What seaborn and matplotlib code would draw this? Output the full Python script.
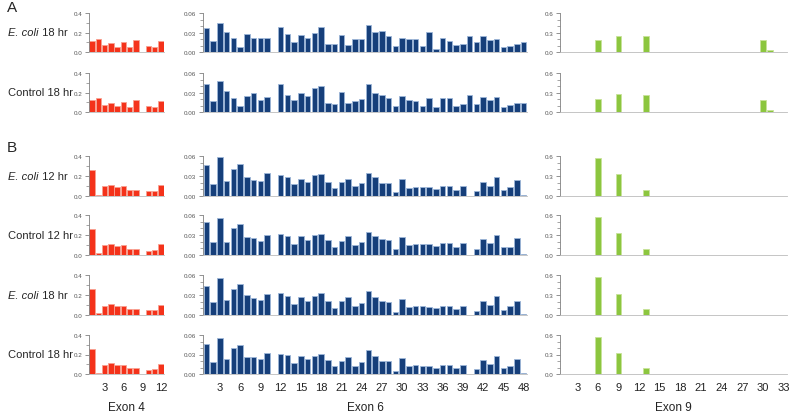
import pandas as pd
import matplotlib
matplotlib.use("Agg")
import matplotlib.pyplot as plt
from matplotlib.ticker import AutoMinorLocator
import seaborn as sns

sns.set_theme(style="white")
plt.rcParams['font.family'] = ['Liberation Sans', 'DejaVu Sans']

# Row labels (panel A: 2 rows, panel B: 4 rows)
row_labels = ["E. coli 18 hr", "Control 18 hr",
              "E. coli 12 hr", "Control 12 hr", "E. coli 18 hr", "Control 18 hr"]
exon_names = ["Exon 4", "Exon 6", "Exon 9"]

# Exon 4: 12 positions
exon4 = [
    [0.113, 0.137, 0.068, 0.089, 0.055, 0.103, 0.048, 0.126, 0.0, 0.065, 0.050, 0.110],
    [0.124, 0.145, 0.070, 0.090, 0.060, 0.104, 0.054, 0.128, 0.0, 0.064, 0.047, 0.114],
    [0.262, 0.015, 0.097, 0.113, 0.093, 0.100, 0.063, 0.063, 0.0, 0.053, 0.053, 0.110],
    [0.265, 0.018, 0.097, 0.110, 0.093, 0.100, 0.060, 0.060, 0.0, 0.043, 0.053, 0.107],
    [0.257, 0.018, 0.090, 0.113, 0.090, 0.093, 0.063, 0.063, 0.0, 0.047, 0.047, 0.097],
    [0.254, 0.012, 0.092, 0.112, 0.088, 0.092, 0.061, 0.061, 0.0, 0.044, 0.047, 0.098],
]

# Exon 6: 48 positions
exon6 = [
    [0.0374, 0.0174, 0.045, 0.031, 0.022, 0.0077, 0.028, 0.022, 0.022, 0.022,
     0.0, 0.039, 0.0277, 0.0154, 0.026, 0.0215, 0.0297, 0.038, 0.0128, 0.0118,
     0.0267, 0.0103, 0.020, 0.0195, 0.042, 0.031, 0.0318, 0.0246, 0.0097, 0.022,
     0.0195, 0.0195, 0.0087, 0.031, 0.005, 0.022, 0.0174, 0.0113, 0.0128, 0.024,
     0.0154, 0.024, 0.019, 0.0205, 0.0072, 0.0097, 0.0128, 0.0154],
    [0.0424, 0.0176, 0.047, 0.0318, 0.022, 0.0096, 0.024, 0.0287, 0.018, 0.023,
     0.0, 0.0424, 0.0257, 0.0187, 0.029, 0.0247, 0.0363, 0.0398, 0.0136, 0.0126,
     0.0303, 0.0131, 0.0171, 0.0197, 0.0434, 0.0297, 0.0262, 0.022, 0.010, 0.024,
     0.019, 0.0176, 0.0086, 0.022, 0.0076, 0.021, 0.021, 0.0096, 0.012, 0.026,
     0.013, 0.0227, 0.019, 0.0237, 0.007, 0.011, 0.014, 0.014],
    [0.046, 0.0175, 0.059, 0.022, 0.041, 0.0485, 0.029, 0.0235, 0.0225, 0.034,
     0.0, 0.0315, 0.0285, 0.0175, 0.0255, 0.0215, 0.0315, 0.0335, 0.021, 0.0115,
     0.021, 0.026, 0.0155, 0.0195, 0.034, 0.0285, 0.020, 0.019, 0.006, 0.026,
     0.012, 0.013, 0.013, 0.0135, 0.0105, 0.0145, 0.0145, 0.009, 0.015, 0.0,
     0.0075, 0.0215, 0.0145, 0.0285, 0.009, 0.013, 0.0245, 0.0015],
    [0.050, 0.0195, 0.056, 0.0195, 0.0405, 0.0465, 0.0275, 0.025, 0.021, 0.0305,
     0.0, 0.0315, 0.029, 0.017, 0.029, 0.0225, 0.0305, 0.031, 0.023, 0.0125,
     0.021, 0.028, 0.015, 0.019, 0.0345, 0.028, 0.024, 0.0225, 0.0085, 0.0265,
     0.0145, 0.0165, 0.016, 0.0165, 0.0135, 0.018, 0.0175, 0.0125, 0.018, 0.0,
     0.0085, 0.024, 0.0175, 0.0295, 0.0115, 0.012, 0.025, 0.002],
    [0.0439, 0.019, 0.055, 0.0227, 0.0393, 0.0469, 0.0303, 0.0252, 0.0227, 0.0313,
     0.0, 0.0323, 0.0287, 0.0171, 0.0272, 0.0212, 0.0287, 0.0328, 0.0212, 0.0106,
     0.0207, 0.0272, 0.0136, 0.0182, 0.0353, 0.0267, 0.0207, 0.0197, 0.0045, 0.0247,
     0.0121, 0.0131, 0.0141, 0.0121, 0.0106, 0.0131, 0.0131, 0.0091, 0.0141, 0.0,
     0.0066, 0.0207, 0.0151, 0.0287, 0.0081, 0.0136, 0.0207, 0.001],
    [0.0465, 0.0185, 0.055, 0.0225, 0.0405, 0.0445, 0.0265, 0.026, 0.0225, 0.032,
     0.0, 0.0305, 0.0285, 0.0165, 0.027, 0.0225, 0.027, 0.031, 0.022, 0.012,
     0.020, 0.0265, 0.013, 0.018, 0.037, 0.027, 0.0205, 0.020, 0.005, 0.025,
     0.012, 0.0135, 0.013, 0.013, 0.010, 0.0145, 0.014, 0.0095, 0.0145, 0.0,
     0.0075, 0.0215, 0.016, 0.028, 0.0085, 0.0125, 0.0235, 0.0015],
]

# Exon 9: 33 positions
exon9 = [
    [0.002, 0.002, 0.002, 0.002, 0.004, 0.185, 0.002, 0.002, 0.246, 0.002, 0.002,
     0.002, 0.241, 0.002, 0.006, 0.002, 0.002, 0.002, 0.002, 0.002, 0.002, 0.004,
     0.002, 0.002, 0.002, 0.002, 0.002, 0.002, 0.002, 0.180, 0.025, 0.003, 0.002],
    [0.002, 0.002, 0.002, 0.002, 0.004, 0.207, 0.002, 0.002, 0.277, 0.002, 0.002,
     0.002, 0.262, 0.002, 0.006, 0.002, 0.002, 0.002, 0.002, 0.002, 0.002, 0.004,
     0.002, 0.002, 0.004, 0.002, 0.002, 0.002, 0.002, 0.180, 0.035, 0.005, 0.002],
    [0.001, 0.001, 0.001, 0.001, 0.001, 0.570, 0.001, 0.001, 0.330, 0.001, 0.001,
     0.001, 0.090, 0.003, 0.003, 0.001, 0.001, 0.001, 0.001, 0.001, 0.001, 0.002,
     0.001, 0.001, 0.001, 0.001, 0.001, 0.001, 0.002, 0.002, 0.001, 0.001, 0.001],
    [0.001, 0.001, 0.001, 0.001, 0.001, 0.570, 0.001, 0.001, 0.330, 0.001, 0.001,
     0.001, 0.090, 0.003, 0.003, 0.001, 0.001, 0.001, 0.001, 0.001, 0.001, 0.002,
     0.001, 0.001, 0.001, 0.001, 0.001, 0.001, 0.001, 0.002, 0.001, 0.001, 0.001],
    [0.001, 0.001, 0.001, 0.001, 0.001, 0.565, 0.001, 0.001, 0.320, 0.001, 0.001,
     0.001, 0.085, 0.003, 0.003, 0.001, 0.001, 0.001, 0.001, 0.001, 0.001, 0.002,
     0.001, 0.001, 0.001, 0.001, 0.001, 0.001, 0.001, 0.002, 0.001, 0.001, 0.001],
    [0.001, 0.001, 0.001, 0.001, 0.001, 0.565, 0.001, 0.001, 0.328, 0.001, 0.001,
     0.001, 0.090, 0.003, 0.003, 0.001, 0.001, 0.001, 0.001, 0.001, 0.001, 0.002,
     0.001, 0.001, 0.001, 0.001, 0.001, 0.001, 0.001, 0.004, 0.001, 0.001, 0.001],
]

exon_data = [exon4, exon6, exon9]
ymax = [0.4, 0.06, 0.6]
ytick_fmt = ["{:.1f}", "{:.2f}", "{:.1f}"]
minor_div = [2, 3, 3]
bar_colors = ["#F4321A", "#163F7A", "#8CC63F"]
edge_colors = ["#F8A090", "#9DB6D8", "#C8E29A"]

W, H = 790, 414
fig = plt.figure(figsize=(W / 100, H / 100), dpi=100)

# pixel layout of the panels
col_x = [(89, 164), (203, 527), (560, 787)]
row_y = [(14, 53), (74, 113), (157, 197), (216, 256), (276, 316), (336, 375)]


def px_axes(x0, x1, y0, y1):
    return fig.add_axes([x0 / W, 1 - y1 / H, (x1 - x0) / W, (y1 - y0) / H])


for r, (y0, y1) in enumerate(row_y):
    for c, (x0, x1) in enumerate(col_x):
        ax = px_axes(x0, x1, y0, y1)
        vals = exon_data[c][r]
        n = len(vals)
        df = pd.DataFrame({"pos": list(range(1, n + 1)), "val": vals})
        sns.barplot(data=df, x="pos", y="val", order=list(range(1, n + 1)),
                    color=bar_colors[c], edgecolor=edge_colors[c], linewidth=0.6,
                    width=0.85, saturation=1, ax=ax)
        ax.set_xlim(-0.5, n - 0.5)
        ax.set_ylim(0, ymax[c])
        ticks = [0, ymax[c] / 2, ymax[c]]
        ax.set_yticks(ticks)
        ax.set_yticklabels([ytick_fmt[c].format(t) for t in ticks])
        ax.yaxis.set_minor_locator(AutoMinorLocator(minor_div[c]))
        ax.tick_params(axis="y", which="major", length=3, width=0.6, color="#808080",
                       labelsize=4.5, labelcolor="#555555", pad=2, left=True)
        ax.tick_params(axis="y", which="minor", length=2, width=0.5, color="#808080", left=True)
        ax.set_xlabel("")
        ax.set_ylabel("")
        for s in ["top", "right"]:
            ax.spines[s].set_visible(False)
        ax.spines["left"].set_color("#808080")
        ax.spines["left"].set_linewidth(0.6)
        ax.spines["bottom"].set_color("#bbbbbb")
        ax.spines["bottom"].set_linewidth(0.6)
        ax.patch.set_alpha(0)
        if r == len(row_y) - 1:
            xt = list(range(2, n, 3))
            ax.set_xticks(xt)
            ax.set_xticklabels([str(i + 1) for i in xt])
            ax.tick_params(axis="x", length=0, labelsize=8, labelcolor="#222222", pad=6)
            ax.set_xlabel(exon_names[c], fontsize=8.5, color="#222222", labelpad=6)
        else:
            ax.set_xticks([])

# row labels
for r, (y0, y1) in enumerate(row_y):
    yc = 1 - (y0 + y1) / 2 / H
    lab = row_labels[r]
    if lab.startswith("E. coli"):
        fig.text(8 / W, yc, "E. coli", style="italic", fontsize=8, va="center", ha="left")
        fig.text(39 / W, yc, lab[len("E. coli"):], fontsize=8, va="center", ha="left")
    else:
        fig.text(8 / W, yc, lab, fontsize=8, va="center", ha="left")

fig.text(7 / W, 1 - 8 / H, "A", fontsize=11, va="center", ha="left")
fig.text(7 / W, 1 - 148 / H, "B", fontsize=11, va="center", ha="left")

fig.savefig("out.png", dpi=100)
